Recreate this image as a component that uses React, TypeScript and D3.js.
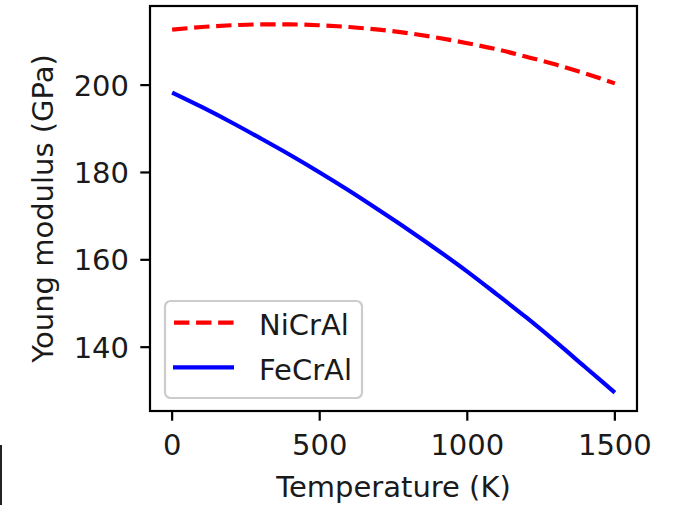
import React from "react";
import * as d3 from "d3";

const temperatures = [0, 100, 200, 300, 400, 500, 600, 700, 800, 900, 1000, 1100, 1200, 1300, 1400, 1500];
const nicral = [212.7, 213.3, 213.7, 213.9, 213.9, 213.7, 213.3, 212.7, 211.9, 210.85, 209.6, 208.2, 206.5, 204.7, 202.65, 200.4];
const fecral = [198.3, 195.0, 191.5, 187.8, 184.0, 180.0, 175.8, 171.4, 166.9, 162.2, 157.3, 152.1, 146.8, 141.2, 135.4, 129.6];
const xTicks = [0, 500, 1000, 1500];
const yTicks = [140, 160, 180, 200];
const seriesNames = ["NiCrAl", "FeCrAl"];

const W = 676;
const H = 505;
const L = 150, R = 637, T = 6, B = 411;
const FONT = "DejaVu Sans, sans-serif";
const FS = 29;
const TXT = "#1a1a1a";

export default function App() {
  const xMin = d3.min(temperatures)!, xMax = d3.max(temperatures)!;
  const allY = [...nicral, ...fecral];
  const yMin = d3.min(allY)!, yMax = d3.max(allY)!;
  const xPad = (xMax - xMin) * 0.05;
  const yPad = (yMax - yMin) * 0.05;
  const x = d3.scaleLinear().domain([xMin - xPad, xMax + xPad]).range([L, R]);
  const y = d3.scaleLinear().domain([yMin - yPad, yMax + yPad]).range([B, T]);

  const line = d3
    .line<[number, number]>()
    .x((d) => x(d[0]))
    .y((d) => y(d[1]))
    .curve(d3.curveMonotoneX);

  const redPath = line(temperatures.map((t, i) => [t, nicral[i]]))!;
  const bluePath = line(temperatures.map((t, i) => [t, fecral[i]]))!;

  const lw = 4.17;
  const dash = "15.4 6.67";

  return (
    <svg
      width={W}
      height={H}
      style={{ position: "absolute", left: 0, top: 0, background: "#fff" }}
      fontFamily={FONT}
    >
      <rect x={0} y={0} width={W} height={H} fill="#fff" />
      <rect x={0} y={445} width={2} height={60} fill="#222" />
      <defs>
        <clipPath id="plotclip">
          <rect x={L} y={T} width={R - L} height={B - T} />
        </clipPath>
      </defs>
      <g clipPath="url(#plotclip)">
        <path d={redPath} fill="none" stroke="#ff0000" strokeWidth={lw} strokeDasharray={dash} />
        <path d={bluePath} fill="none" stroke="#0000ff" strokeWidth={lw} />
      </g>
      <rect x={L} y={T} width={R - L} height={B - T} fill="none" stroke="#000" strokeWidth={2.2} />
      {xTicks.map((t) => (
        <g key={"x" + t}>
          <line x1={x(t)} x2={x(t)} y1={B} y2={B + 9.7} stroke="#000" strokeWidth={2.2} />
          <text x={x(t)} y={455} textAnchor="middle" fontSize={FS} fill={TXT}>
            {t}
          </text>
        </g>
      ))}
      {yTicks.map((t) => (
        <g key={"y" + t}>
          <line x1={L - 9.7} x2={L} y1={y(t)} y2={y(t)} stroke="#000" strokeWidth={2.2} />
          <text x={129} y={y(t) + 10.5} textAnchor="end" fontSize={FS} fill={TXT}>
            {t}
          </text>
        </g>
      ))}
      <text x={(L + R) / 2} y={497} textAnchor="middle" fontSize={FS} fill={TXT}>
        Temperature (K)
      </text>
      <text
        transform={`translate(53, ${(T + B) / 2}) rotate(-90)`}
        textAnchor="middle"
        fontSize={FS}
        fill={TXT}
      >
        Young modulus (GPa)
      </text>
      <rect x={165} y={301} width={197} height={97} rx={5.6} ry={5.6} fill="#fff" fillOpacity={0.8} stroke="#cccccc" strokeWidth={2.2} />
      <line x1={174} x2={234} y1={322.7} y2={322.7} stroke="#ff0000" strokeWidth={lw} strokeDasharray={dash} />
      <line x1={173} x2={234} y1={367.3} y2={367.3} stroke="#0000ff" strokeWidth={lw} />
      <text x={259} y={335} fontSize={FS} fill={TXT}>
        {seriesNames[0]}
      </text>
      <text x={259} y={380} fontSize={FS} fill={TXT}>
        {seriesNames[1]}
      </text>
    </svg>
  );
}
